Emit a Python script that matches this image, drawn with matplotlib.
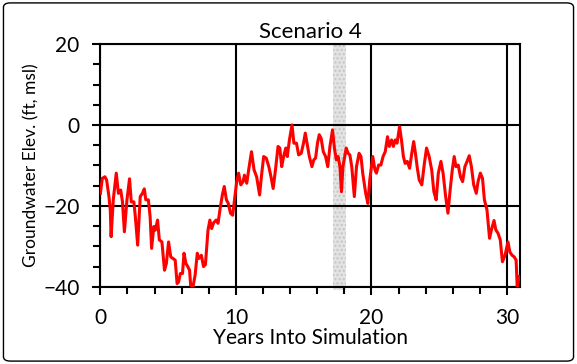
import matplotlib.pyplot as plt
from matplotlib.patches import FancyBboxPatch
from matplotlib.ticker import MultipleLocator

plt.rcParams["font.family"] = ["Lato", "DejaVu Sans"]

# simulated groundwater elevation (years, ft msl)
years = [0.00, 0.14, 0.33, 0.46, 0.63, 0.73, 0.79, 0.95, 1.17, 1.33, 1.50, 1.63, 1.77, 1.96,
         2.15, 2.28, 2.47, 2.58, 2.75, 2.94, 3.10, 3.24, 3.35, 3.54, 3.67, 3.78, 3.94, 4.05,
         4.22, 4.35, 4.54, 4.73, 4.87, 5.03, 5.19, 5.36, 5.52, 5.66, 5.77, 5.90, 6.06, 6.17,
         6.31, 6.45, 6.58, 6.66, 6.83, 6.99, 7.15, 7.26, 7.45, 7.61, 7.75, 7.94, 8.08, 8.21,
         8.35, 8.54, 8.68, 8.84, 9.00, 9.14, 9.30, 9.44, 9.60, 9.76, 9.93, 10.06, 10.20, 10.36,
         10.53, 10.63, 10.80, 10.96, 11.15, 11.34, 11.53, 11.75, 11.88, 12.05, 12.24, 12.43,
         12.59, 12.75, 12.92, 13.11, 13.24, 13.38, 13.52, 13.68, 13.79, 13.95, 14.14, 14.28,
         14.47, 14.63, 14.82, 14.99, 15.12, 15.29, 15.42, 15.61, 15.75, 15.88, 16.02, 16.15,
         16.29, 16.45, 16.62, 16.78, 16.94, 17.13, 17.27, 17.41, 17.54, 17.68, 17.79, 17.90,
         18.14, 18.28, 18.41, 18.55, 18.74, 18.90, 19.09, 19.23, 19.36, 19.58, 19.74, 19.88,
         20.10, 20.26, 20.37, 20.53, 20.70, 20.86, 21.02, 21.19, 21.32, 21.49, 21.62, 21.76,
         21.89, 22.08, 22.22, 22.36, 22.49, 22.65, 22.82, 22.98, 23.12, 23.25, 23.39, 23.53,
         23.72, 23.91, 24.07, 24.26, 24.45, 24.61, 24.78, 24.94, 25.13, 25.29, 25.48, 25.65,
         25.81, 25.97, 26.11, 26.24, 26.41, 26.57, 26.73, 26.90, 27.06, 27.22, 27.38, 27.55,
         27.74, 27.87, 28.04, 28.20, 28.34, 28.53, 28.72, 28.86, 29.05, 29.18, 29.35, 29.51,
         29.67, 29.86, 30.08, 30.22, 30.38, 30.54, 30.68, 30.76, 30.92]
elev = [-16.9, -13.2, -12.8, -13.6, -17.7, -21.0, -27.6, -18.5, -11.9, -16.9, -16.1, -19.0, -26.4, -18.5,
        -13.3, -19.0, -19.0, -22.7, -29.7, -17.7, -16.9, -15.8, -18.5, -18.5, -22.7, -30.5, -25.1, -26.0,
        -23.5, -28.4, -28.9, -35.9, -34.2, -28.9, -32.6, -33.0, -33.4, -39.2, -38.8, -36.7, -36.7, -31.7,
        -34.2, -35.0, -35.9, -39.6, -40.0, -37.1, -31.7, -33.0, -32.2, -35.0, -34.5, -26.0, -23.5, -25.6,
        -24.2, -23.5, -24.3, -20.6, -17.3, -15.2, -18.5, -19.4, -21.8, -22.3, -17.7, -14.0, -11.9, -14.8,
        -14.0, -12.4, -14.4, -10.7, -6.6, -11.1, -12.8, -17.3, -12.8, -7.8, -8.2, -10.3,
        -12.8, -15.7, -11.1, -5.3, -5.7, -10.3, -7.8, -5.7, -7.8, -3.7, 0.0, -4.5,
        -4.5, -7.4, -7.0, -4.5, -2.0, -5.3, -7.8, -10.3, -8.6, -8.2, -4.5, -2.4,
        -3.3, -6.6, -7.8, -10.3, -5.3, -1.2, -5.7, -8.6, -7.8, -10.3, -16.5, -10.3,
        -5.7, -7.0, -7.4, -10.3, -17.7, -10.3, -7.0, -7.8, -11.9, -16.9, -19.4, -13.6,
        -7.8, -11.1, -11.9, -9.9, -9.9, -7.8, -6.6, -2.9, -5.3, -3.7, -5.3, -3.7,
        -4.5, -0.4, -3.7, -7.8, -9.5, -9.0, -10.7, -7.0, -4.1, -7.0, -10.7, -13.6,
        -14.8, -9.5, -5.7, -7.8, -11.1, -16.5, -18.5, -11.9, -9.0, -11.9, -17.7, -21.8,
        -16.1, -11.1, -7.8, -10.3, -9.9, -12.8, -14.0, -10.3, -9.0, -7.6, -10.3, -14.8,
        -16.9, -14.0, -11.9, -13.2, -18.5, -21.0, -28.0, -25.9, -23.6, -25.9, -26.8, -28.4,
        -33.8, -32.2, -28.9, -31.4, -32.2, -32.6, -33.4, -40.0, -37.5]

# shaded period
band = (17.2, 18.1)

fig = plt.figure(figsize=(5.77, 3.64), dpi=100)
ax = fig.add_axes([0.174, 0.212, 0.728, 0.667])

ax.axvspan(band[0], band[1], ymin=-0.015, ymax=1, facecolor="#e3e3e3", edgecolor="#c4c4c4",
           hatch="....", linewidth=0, clip_on=False, zorder=1)
ax.plot(years, elev, color="#ff0000", lw=2.2, zorder=3)

ax.set_xlim(0, 31)
ax.set_ylim(-40, 20)
ax.xaxis.set_major_locator(MultipleLocator(10))
ax.xaxis.set_minor_locator(MultipleLocator(2))
ax.yaxis.set_major_locator(MultipleLocator(20))
ax.yaxis.set_minor_locator(MultipleLocator(5))
ax.grid(which="major", color="black", lw=1.5, zorder=2)
ax.set_axisbelow(False)
for s in ax.spines.values():
    s.set_linewidth(1.5)
ax.tick_params(which="both", direction="out", width=1.5, labelsize=15)
ax.tick_params(which="major", length=6, pad=9)
ax.tick_params(which="minor", length=5)

ax.set_title("Scenario 4", fontsize=16, pad=4)
ax.set_xlabel("Years Into Simulation", fontsize=15, labelpad=0)
ax.set_ylabel("Groundwater Elev. (ft, msl)", fontsize=12.5, labelpad=3)

fig.patches.append(FancyBboxPatch((0.006, 0.008), 0.988, 0.984, boxstyle="round,pad=0,rounding_size=0.012",
                                  transform=fig.transFigure, facecolor="none", edgecolor="black", lw=1))

fig.savefig("out.png", dpi=100)
